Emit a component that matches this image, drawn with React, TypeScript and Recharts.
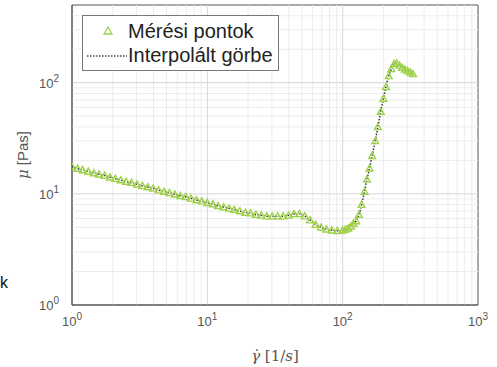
import React from 'react';
import {
  ComposedChart,
  Line,
  Scatter,
  XAxis,
  YAxis,
  ReferenceLine,
  ReferenceArea,
  Legend,
} from 'recharts';

// shear rate [1/s] and viscosity [Pas]
const shearRate = [
  1.0, 1.1, 1.2, 1.32, 1.45, 1.58, 1.74, 1.91, 2.09, 2.29, 2.51, 2.75, 3.02, 3.31, 3.63, 3.98,
  4.37, 4.79, 5.25, 5.75, 6.31, 6.92, 7.59, 8.32, 9.12, 10.0, 11.0, 12.0, 13.2, 14.5, 15.8, 17.4,
  19.1, 20.9, 22.9, 25.1, 27.5, 30.2, 33.1, 36.3, 39.8, 43.7, 47.9, 52.5, 57.5, 63.1, 69.2, 75.9,
  83.2, 91.2, 100, 105, 110, 115, 120, 126, 132, 138, 145, 151, 158, 165, 174, 182, 191, 200,
  209, 219, 229, 240, 251, 263, 275, 288, 302, 316, 331,
];
const viscosity = [
  17.6, 16.9, 16.4, 15.9, 15.4, 15.0, 14.6, 14.1, 13.7, 13.3, 12.9, 12.6, 12.2, 11.8, 11.5, 11.2,
  10.8, 10.5, 10.2, 9.9, 9.6, 9.4, 9.1, 8.8, 8.6, 8.3, 8.1, 7.8, 7.6, 7.4, 7.2, 7.0,
  6.8, 6.7, 6.5, 6.4, 6.3, 6.3, 6.3, 6.3, 6.4, 6.6, 6.6, 6.3, 5.8, 5.3, 5.0, 4.8,
  4.7, 4.65, 4.7, 4.8, 4.9, 5.1, 5.4, 5.7, 6.5, 8.0, 10.5, 13.5, 17, 22, 30, 40, 55, 72,
  92, 115, 133, 148, 150, 143, 137, 132, 128, 124, 120,
];

const xTicks = [1, 10, 100, 1000];
const yTicks = [1, 10, 100];
const minorMult = [2, 3, 4, 5, 6, 7, 8, 9];
const xMinor = [1, 10, 100].flatMap((d) => minorMult.map((m) => m * d));
const yMinor = [1, 10, 100].flatMap((d) => minorMult.map((m) => m * d)).filter((v) => v < 500);

const data = shearRate.map((x, i) => ({ x, mu: viscosity[i], fit: viscosity[i] }));

const TICK_FONT = '"Liberation Sans", Arial, sans-serif';
const MARKER = '#9fd14a';

function PowerTick(props: any) {
  const { x, y, payload, axis } = props;
  const exp = Math.round(Math.log10(payload.value));
  const isX = axis === 'x';
  return (
    <text
      x={isX ? x : x - 5}
      y={isX ? y + 13 : y + 5}
      textAnchor={isX ? 'middle' : 'end'}
      fill="#555"
      fontFamily={TICK_FONT}
      fontSize={13}
    >
      10
      <tspan dy={-6} fontSize={10}>
        {exp}
      </tspan>
    </text>
  );
}

function Triangle(props: any) {
  const { cx, cy } = props;
  if (cx == null || cy == null) return null;
  const s = 3.4;
  return (
    <path
      d={`M${cx},${cy - s}L${cx + s},${cy + s * 0.8}L${cx - s},${cy + s * 0.8}Z`}
      fill="none"
      stroke={MARKER}
      strokeWidth={1.4}
    />
  );
}

function LegendBox() {
  return (
    <div
      style={{
        border: '1px solid #777',
        background: '#fff',
        padding: '3px 5px 3px 2px',
        fontFamily: TICK_FONT,
        fontSize: 20,
        color: '#222',
        lineHeight: '24px',
      }}
    >
      <div style={{ display: 'flex', alignItems: 'center' }}>
        <svg width={42} height={22}>
          <path d="M23,7L27,14L19,14Z" fill="none" stroke={MARKER} strokeWidth={1.3} />
        </svg>
        <span style={{ marginLeft: 1 }}>Mérési pontok</span>
      </div>
      <div style={{ display: 'flex', alignItems: 'center' }}>
        <svg width={42} height={22}>
          <line x1={2} y1={12} x2={42} y2={12} stroke="#444" strokeWidth={1.5} strokeDasharray="1.5 1.5" />
        </svg>
        <span style={{ marginLeft: 1 }}>Interpolált görbe</span>
      </div>
    </div>
  );
}

export default function App() {
  return (
    <div style={{ position: 'absolute', left: 0, top: 0, width: 497, height: 367, background: '#fff' }}>
      <span
        style={{
          position: 'absolute',
          left: 0,
          top: 274,
          fontFamily: TICK_FONT,
          fontSize: 16,
          color: '#111',
        }}
      >
        k
      </span>
      <ComposedChart
        width={497}
        height={367}
        data={data}
        margin={{ top: 5, right: 19, left: 12, bottom: 22 }}
      >
        {xMinor.map((v) => (
          <ReferenceLine key={`xm${v}`} x={v} stroke="#ececec" strokeWidth={1} />
        ))}
        {yMinor.map((v) => (
          <ReferenceLine key={`ym${v}`} y={v} stroke="#ececec" strokeWidth={1} />
        ))}
        {[10, 100].map((v) => (
          <ReferenceLine key={`xM${v}`} x={v} stroke="#d6d6d6" strokeWidth={1} />
        ))}
        {[10, 100].map((v) => (
          <ReferenceLine key={`yM${v}`} y={v} stroke="#d6d6d6" strokeWidth={1} />
        ))}
        <XAxis
          dataKey="x"
          type="number"
          scale="log"
          domain={[1, 1000]}
          ticks={xTicks}
          allowDataOverflow
          height={40}
          tickLine={false}
          axisLine={{ stroke: '#555' }}
          tick={<PowerTick axis="x" />}
          label={{
            content: () => (
              <text
                x={275}
                y={361}
                textAnchor="middle"
                fill="#555"
                fontFamily='"DejaVu Serif", "Liberation Serif", serif'
                fontSize={15}
              >
                <tspan fontStyle="italic">γ̇</tspan> [1/<tspan fontStyle="italic">s</tspan>]
              </text>
            ),
          }}
        />
        <YAxis
          type="number"
          scale="log"
          domain={[1, 500]}
          ticks={yTicks}
          allowDataOverflow
          width={60}
          tickLine={false}
          axisLine={{ stroke: '#555' }}
          tick={<PowerTick axis="y" />}
          label={{
            content: () => (
              <text
                x={28}
                y={155}
                transform="rotate(-90 28 155)"
                textAnchor="middle"
                fill="#555"
                fontFamily={TICK_FONT}
                fontSize={15}
              >
                <tspan fontStyle="italic" fontFamily='"DejaVu Serif", serif'>
                  μ
                </tspan>{' '}
                [Pas]
              </text>
            ),
          }}
        />
        <ReferenceArea x1={1} x2={1000} y1={1} y2={500} fill="none" stroke="#555" strokeWidth={1} />
        <Scatter dataKey="mu" shape={<Triangle />} isAnimationActive={false} />
        <Line
          dataKey="fit"
          type="monotone"
          stroke="#333"
          strokeWidth={1.5}
          strokeDasharray="1.5 1.5"
          dot={false}
          isAnimationActive={false}
        />
        <Legend
          layout="horizontal"
          verticalAlign="middle"
          align="center"
          wrapperStyle={{ top: 15, left: 82, width: 'auto' }}
          content={() => <LegendBox />}
        />
      </ComposedChart>
    </div>
  );
}
